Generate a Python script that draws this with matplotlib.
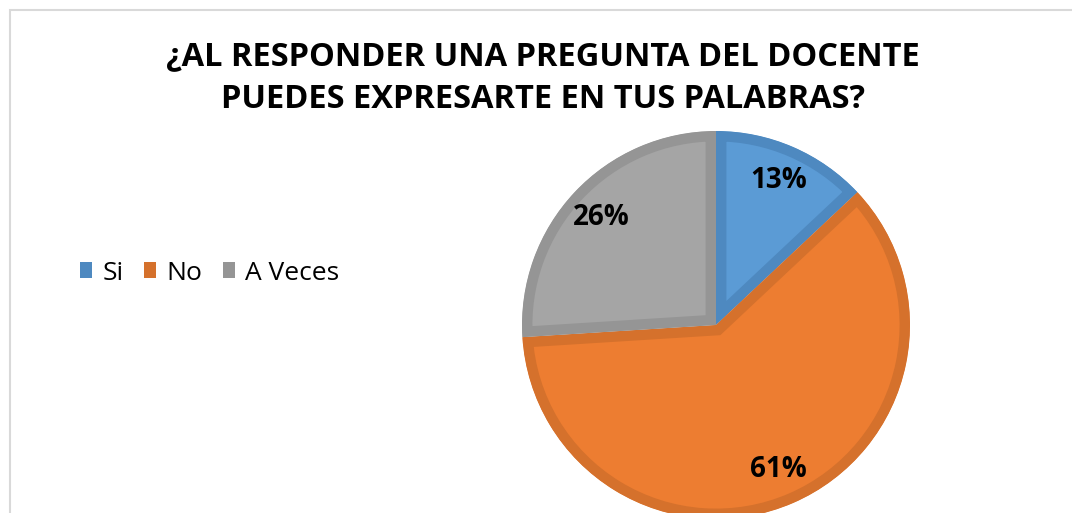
import matplotlib
matplotlib.use("Agg")
import matplotlib.pyplot as plt
from matplotlib.patches import Patch, Rectangle

title_lines = ["¿AL RESPONDER UNA PREGUNTA DEL DOCENTE", "PUEDES EXPRESARTE EN TUS PALABRAS?"]
categories = ["Si", "No", "A Veces"]
values = [13, 61, 26]
fill_colors = ["#5B9BD5", "#ED7D31", "#A5A5A5"]
edge_colors = ["#4E89C0", "#D5712C", "#959595"]

W, H = 1072, 513
fig = plt.figure(figsize=(W / 100, H / 100), dpi=100)
fig.patch.set_facecolor("white")

# chart frame
fig.patches.append(Rectangle((9.5 / W, -0.1), 1.2, (H - 9.5) / H + 0.1,
                             transform=fig.transFigure, fill=False,
                             edgecolor="#D9D9D9", linewidth=1.5))

cx, cy, r = 716, 325, 194
ax = fig.add_axes([(cx - r) / W, (H - cy - r) / H, 2 * r / W, 2 * r / H])
wedges, texts, autotexts = ax.pie(
    values, colors=fill_colors, startangle=90, counterclock=False,
    autopct="%1.0f%%", pctdistance=0.81,
    textprops=dict(fontsize=20, fontweight="bold", color="black", family="Open Sans"))
for w, ec in zip(wedges, edge_colors):
    w.set_edgecolor(ec)
    w.set_linewidth(15)
    w.set_clip_on(True)
    w.set_clip_path(w)
ax.set_xlim(-1, 1)
ax.set_ylim(-1, 1)
ax.axis("off")

fig.text(543 / W, 1 - 57 / H, title_lines[0], ha="center", va="center",
         fontsize=23.5, fontweight="bold", family="Open Sans")
fig.text(543 / W, 1 - 100 / H, title_lines[1], ha="center", va="center",
         fontsize=23.5, fontweight="bold", family="Open Sans")

handles = [Patch(facecolor=c, edgecolor="none") for c in edge_colors]
fig.legend(handles, categories, loc="center left",
           bbox_to_anchor=(80 / W, 1 - 273 / H), ncol=3, frameon=False,
           prop=dict(family="Open Sans", size=19), handlelength=0.47,
           handleheight=0.55, handletextpad=0.4, columnspacing=0.75,
           borderpad=0, borderaxespad=0)

fig.savefig("out.png", dpi=100)
